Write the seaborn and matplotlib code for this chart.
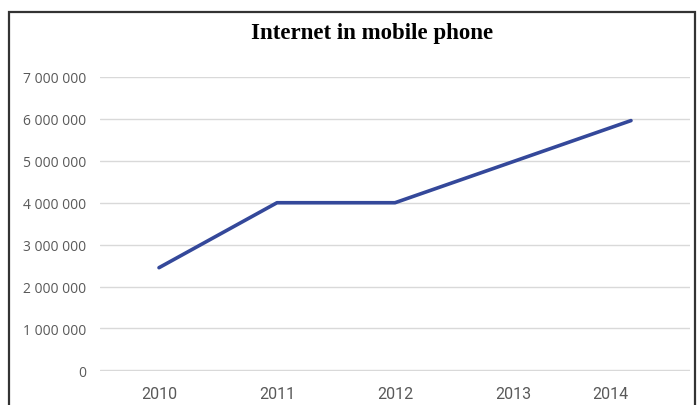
import matplotlib
matplotlib.use("Agg")
import matplotlib.pyplot as plt
import matplotlib.patches as mpatches
import matplotlib.transforms as mtransforms
from matplotlib.ticker import FuncFormatter
import seaborn as sns
import pandas as pd

years = [2010, 2011, 2012, 2013, 2014]
users = [2450000, 4000000, 4000000, 4980000, 5960000]
title = "Internet in mobile phone"
y_ticks = [0, 1000000, 2000000, 3000000, 4000000, 5000000, 6000000, 7000000]

df = pd.DataFrame({"year": years, "users": users})

sns.set_theme(style="white")
W, H = 697, 406
fig = plt.figure(figsize=(W / 100, H / 100), dpi=100)
ax = fig.add_axes([100 / W, (H - 372) / H, 590 / W, 294 / H])

sns.lineplot(data=df, x="year", y="users", ax=ax, color="#34489a", linewidth=2.6,
             solid_capstyle="round")

ax.set_xlim(2009.5, 2014.5)
ax.set_ylim(-15000, 7000000)
ax.set_yticks(y_ticks)
ax.yaxis.set_major_formatter(FuncFormatter(lambda v, p: f"{int(v):,}".replace(",", " ")))
ax.set_xticks(years)
ax.set_xticklabels([str(y) for y in years])
ax.grid(axis="y", color="#d9d9d9", linewidth=1.0)
ax.set_axisbelow(True)
for s in ax.spines.values():
    s.set_visible(False)
ax.tick_params(axis="both", length=0, colors="#595959")
ax.tick_params(axis="y", pad=10, labelsize=10)
ax.tick_params(axis="x", pad=11, labelsize=11.5)
for lab in ax.get_yticklabels():
    lab.set_fontfamily("Open Sans")
xlabs = ax.get_xticklabels()
for lab in xlabs:
    lab.set_fontfamily("Roboto")
# the last year label sits a little left of its point in the original
xlabs[-1].set_transform(xlabs[-1].get_transform() +
                        mtransforms.ScaledTranslation(-0.21, 0, fig.dpi_scale_trans))
ax.set_xlabel("")
ax.set_ylabel("")

fig.text(372 / W, (H - 33) / H, title, ha="center", va="center",
         fontfamily="Liberation Serif", fontweight="bold", fontsize=16.5, color="#000000")

border = mpatches.Rectangle((9 / W, -0.05), (695 - 9) / W, (H - 13) / H + 0.05,
                            transform=fig.transFigure, fill=False,
                            edgecolor="#333333", linewidth=1.6, clip_on=False)
fig.patches.append(border)

fig.savefig("out.png", dpi=100)
